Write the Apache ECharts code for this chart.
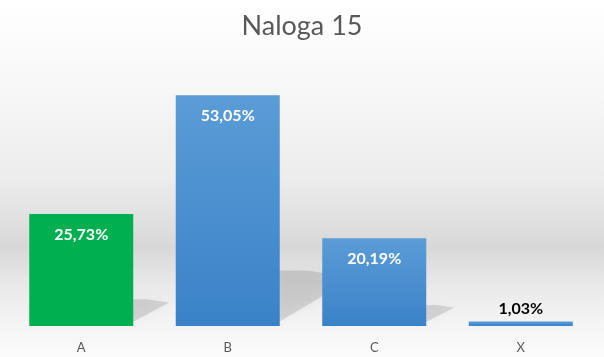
<!DOCTYPE html>
<html>
<head>
<meta charset="utf-8">
<script src="https://cdn.jsdelivr.net/npm/echarts@6/dist/echarts.min.js"></script>
<style>
html,body{margin:0;padding:0;}
#chart{width:604px;height:357px;background:linear-gradient(to bottom,#ffffff 0px,#f8f8f8 80px,#ececec 180px,#d8d8d8 247px,#e9e9e9 285px,#f5f5f5 326px,#fbfbfb 357px);}
</style>
</head>
<body>
<div id="chart"></div>
<script>
var categories = ['A', 'B', 'C', 'X'];
var values = [25.73, 53.05, 20.19, 1.03];
var titleText = 'Naloga 15';

var FONT = 'Lato, "Open Sans", sans-serif';
var chart = echarts.init(document.getElementById('chart'), null, {renderer: 'canvas'});

var blueGrad = new echarts.graphic.LinearGradient(0, 0, 0, 1, [
  {offset: 0, color: '#5b9cd6'},
  {offset: 1, color: '#3a82c8'}
]);

var barData = values.map(function (v, i) {
  var item = {value: v};
  if (i === 0) {
    item.itemStyle = {color: '#00b050'};
  }
  if (v < 5) {
    item.label = {position: 'top', distance: 5, color: '#000000'};
  }
  return item;
});

var BAR_RATIO = 0.71;

chart.setOption({
  animation: false,
  backgroundColor: 'transparent',
  title: {
    text: titleText,
    left: 'center',
    top: 8,
    textStyle: {fontFamily: FONT, fontSize: 27, fontWeight: 'normal', color: '#595959'}
  },
  grid: {left: 8, right: 10, top: 65, bottom: 31, containLabel: false},
  xAxis: {
    type: 'category',
    data: categories,
    axisLine: {show: false},
    axisTick: {show: false},
    axisLabel: {fontFamily: FONT, fontSize: 13, color: '#595959', margin: 15}
  },
  yAxis: {
    type: 'value',
    min: 0,
    max: 60,
    show: false,
    splitLine: {show: false}
  },
  series: [
    {
      type: 'custom',
      z: 1,
      silent: true,
      data: values,
      renderItem: function (params, api) {
        var v = api.value(0);
        var base = api.coord([params.dataIndex, 0]);
        var top = api.coord([params.dataIndex, v]);
        var bw = api.size([1, 0])[0] * BAR_RATIO;
        var h = base[1] - top[1];
        if (h < 20) return null;
        var xr = base[0] + bw / 2;
        var yb = base[1];
        return {
          type: 'polygon',
          shape: {points: [
            [xr - 4, yb - 2],
            [xr - 4, yb - 0.24 * h],
            [xr + 0.12 * h, yb - 0.24 * h],
            [xr + 0.32 * h, yb - 0.21 * h]
          ]},
          style: {fill: 'rgba(0,0,0,0.12)', shadowBlur: 14, shadowColor: 'rgba(0,0,0,0.3)'}
        };
      },
      encode: {x: -1, y: 0}
    },
    {
      type: 'bar',
      z: 2,
      data: barData,
      barWidth: (BAR_RATIO * 100) + '%',
      itemStyle: {color: blueGrad},
      label: {
        show: true,
        position: 'insideTop',
        distance: 13,
        fontFamily: FONT,
        fontSize: 16,
        fontWeight: 'bold',
        color: '#ffffff',
        formatter: function (p) {
          return p.value.toFixed(2).replace('.', ',') + '%';
        }
      }
    }
  ]
});
</script>
</body>
</html>
